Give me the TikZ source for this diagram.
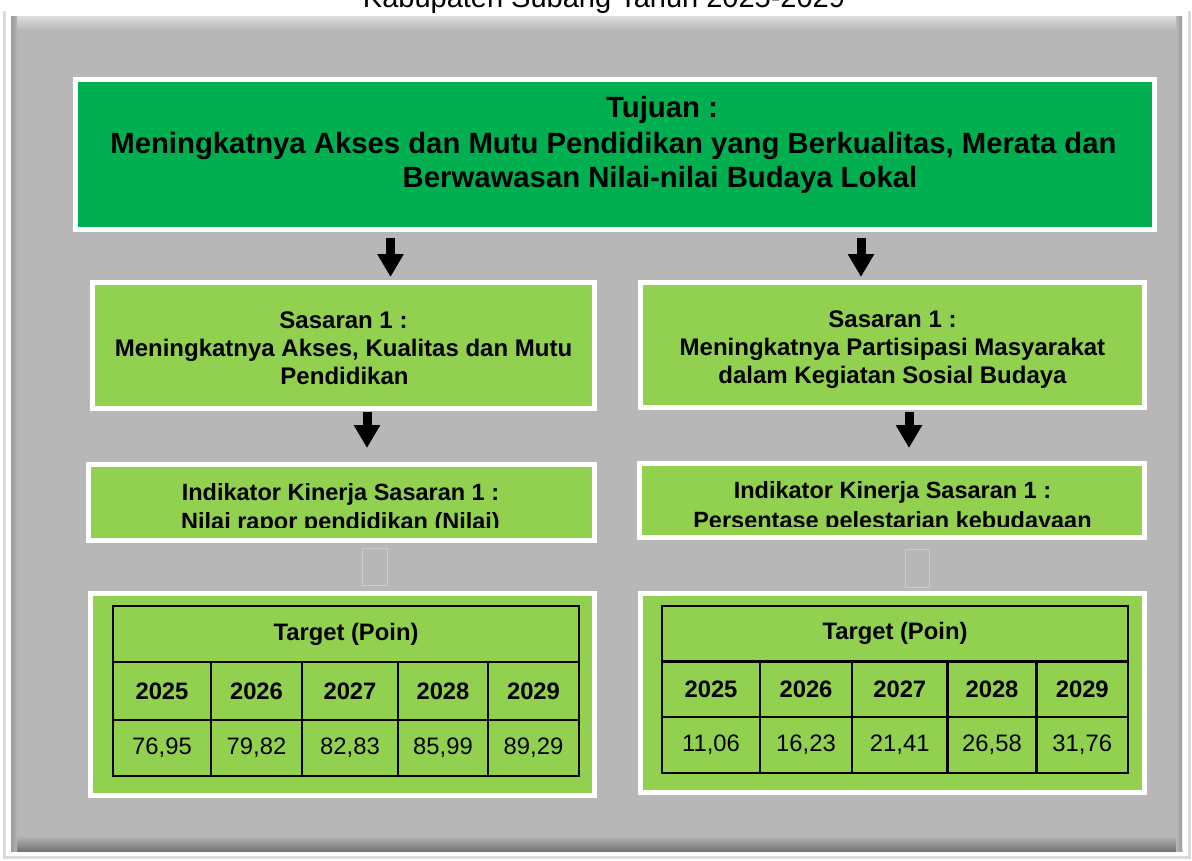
\documentclass[tikz,border=0pt]{standalone}
\usepackage{fontspec}
\setmainfont{Liberation Sans}
\usetikzlibrary{arrows.meta}
\definecolor{panelgray}{HTML}{B7B7B7}
\definecolor{dgreen}{HTML}{00B050}
\definecolor{lgreen}{HTML}{92D050}
\begin{document}
\begin{tikzpicture}[x=1pt,y=-1pt,
  box/.style={draw=white, line width=5pt, inner sep=0pt, outer sep=0pt, anchor=center},
  gbox/.style={box, fill=lgreen},
  dbox/.style={box, fill=dgreen},
  big/.style={font=\fontsize{29.3}{35}\selectfont\bfseries, anchor=base, inner sep=0pt},
  txt/.style={font=\fontsize{23.5}{27.5}\selectfont\bfseries, anchor=base, inner sep=0pt},
  stxt/.style={font=\fontsize{24}{27.5}\selectfont\bfseries, anchor=base, inner sep=0pt},
  cell/.style={draw=black, line width=2.2pt, inner sep=0pt, outer sep=0pt, font=\fontsize{23.8}{27.5}\selectfont},
  hcell/.style={cell, font=\fontsize{23.8}{27.5}\selectfont\bfseries},
  blockarrow/.style={draw=black, line width=9pt, -{Triangle[width=25pt,length=23pt]}},
  ghost/.style={draw=black!20, fill=panelgray, line width=0.8pt, inner sep=0pt, outer sep=0pt}
]
\useasboundingbox (0,0) rectangle (1192,860);
\clip (0,0) rectangle (1192,860);
% background panel
\fill[white] (0,0) rectangle (1192,860);
\fill[black!14] (3,11) rectangle (1191,859);
\fill[white] (6,10) rectangle (1188,856);
\fill[panelgray] (11,16) rectangle (1182,851);
\shade[top color=black!13, bottom color=panelgray] (11,16) rectangle (1182,30);
\shade[top color=panelgray, bottom color=black!55] (11,836) rectangle (1182,851);
\shade[left color=black!40, right color=panelgray] (11,16) rectangle (17,851);
\shade[left color=panelgray, right color=black!40] (1176,16) rectangle (1182,851);
% title (cut off at the top, as in the reference)
\node[font=\fontsize{29}{35}\selectfont, anchor=base, inner sep=0pt] (title) at (604,7) {Kabupaten Subang Tahun 2025-2029};

% Tujuan
\node[dbox, minimum width=1079pt, minimum height=150pt] (tujuan) at (614.5,154) {};
\node[big] (t1) at (662,117.5) {Tujuan :};
\node[big] (t2) at (613.5,153) {Meningkatnya Akses dan Mutu Pendidikan yang Berkualitas, Merata dan};
\node[big] (t3) at (660,187.5) {Berwawasan Nilai-nilai Budaya Lokal};

% Sasaran
\node[gbox, minimum width=502pt, minimum height=126pt] (sas1) at (343.5,345.5) {};
\node[stxt] (s1a) at (343.5,328) {Sasaran 1 :};
\node[stxt] (s1b) at (343.5,356.5) {Meningkatnya Akses, Kualitas dan Mutu};
\node[stxt] (s1c) at (344.5,384) {Pendidikan};

\node[gbox, minimum width=504pt, minimum height=125pt] (sas2) at (892.5,345) {};
\node[stxt] (s2a) at (892.5,327.5) {Sasaran 1 :};
\node[stxt] (s2b) at (892.5,355.5) {Meningkatnya Partisipasi Masyarakat};
\node[stxt] (s2c) at (892.5,383) {dalam Kegiatan Sosial Budaya};

% Indikator
\node[gbox, minimum width=506pt, minimum height=76pt] (ind1) at (341.5,502.5) {};
\node[gbox, minimum width=505pt, minimum height=74pt] (ind2) at (892,500.5) {};
\begin{scope}
\clip (90,466) rectangle (593,527);
\node[txt] (i1a) at (340.5,500.5) {Indikator Kinerja Sasaran 1 :};
\node[txt] (i1b) at (340.5,529.5) {Nilai rapor pendidikan (Nilai)};
\end{scope}
\begin{scope}
\clip (641,465) rectangle (1143,526.5);
\node[txt] (i2a) at (892.5,498.5) {Indikator Kinerja Sasaran 1 :};
\node[txt] (i2b) at (892.5,528.5) {Persentase pelestarian kebudayaan};
\end{scope}

% faint leftovers
\node[ghost, minimum width=25pt, minimum height=37pt] (g1) at (375,567) {};
\node[ghost, minimum width=24pt, minimum height=38pt] (g2) at (917.5,568) {};

% Table boxes
\node[gbox, minimum width=504pt, minimum height=202pt] (tb1) at (342.5,694.5) {};
\node[gbox, minimum width=504pt, minimum height=199pt] (tb2) at (892.5,693) {};

% Left table
\node[hcell, minimum width=466pt, minimum height=56pt] (lh) at (346,634) {Target (Poin)};
\foreach \n/\cx/\w/\yr/\v in {1/162/98/2025/{76,95},2/256.5/91/2026/{79,82},3/350/96/2027/{82,83},4/443/90/2028/{85,99},5/533.5/91/2029/{89,29}}{
  \node[hcell, minimum width=\w pt, minimum height=58pt] (ly\n) at (\cx,691) {\yr};
  \node[cell, minimum width=\w pt, minimum height=56pt] (lv\n) at (\cx,748) {\v};
}
% Right table
\node[hcell, minimum width=466pt, minimum height=55.5pt] (rh) at (895,633.75) {Target (Poin)};
\foreach \n/\cx/\w/\yr/\v in {1/711/98/2025/{11,06},2/806/92/2026/{16,23},3/899.75/95.5/2027/{21,41},4/992/89/2028/{26,58},5/1082.25/91.5/2029/{31,76}}{
  \node[hcell, minimum width=\w pt, minimum height=55.5pt] (ry\n) at (\cx,689.25) {\yr};
  \node[cell, minimum width=\w pt, minimum height=56pt] (rv\n) at (\cx,745) {\v};
}

% Arrows
\coordinate (x1) at (390.5,0);
\coordinate (x2) at (861,0);
\coordinate (x3) at (367,0);
\coordinate (x4) at (909,0);
\draw[blockarrow, shorten <=9pt, shorten >=5.5pt] (tujuan.south -| x1) -- (sas1.north -| x1);
\draw[blockarrow, shorten <=9pt, shorten >=5.5pt] (tujuan.south -| x2) -- (sas2.north -| x2);
\draw[blockarrow, shorten <=3.5pt, shorten >=16.5pt] (sas1.south -| x3) -- (ind1.north -| x3);
\draw[blockarrow, shorten <=4.5pt, shorten >=15.5pt] (sas2.south -| x4) -- (ind2.north -| x4);
\end{tikzpicture}
\end{document}
